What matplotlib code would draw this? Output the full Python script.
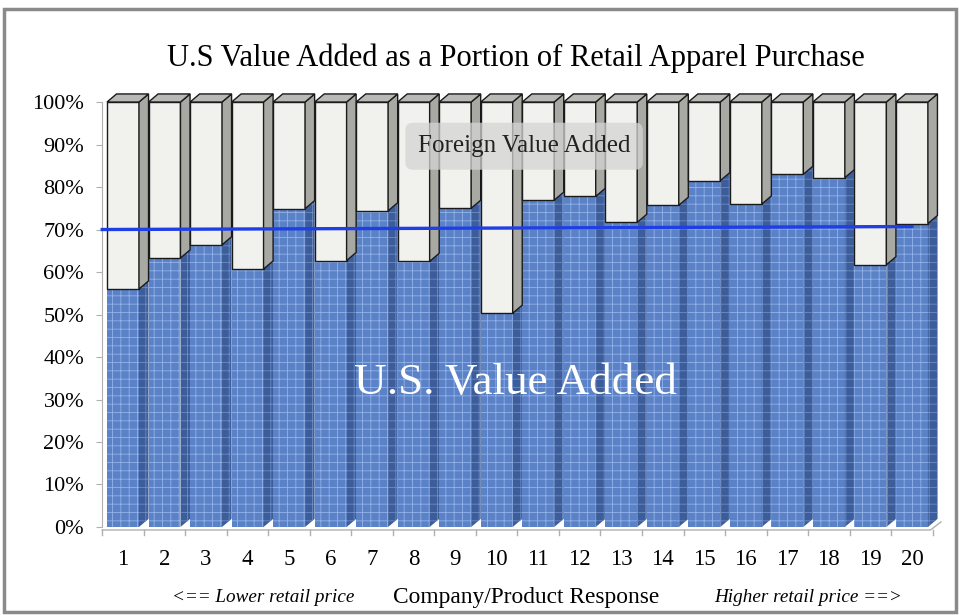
import numpy as np
import matplotlib.pyplot as plt
from matplotlib.patches import Polygon, Rectangle

# Share of the retail price added in the U.S., by company/product response
responses = list(range(1, 21))
us_share = [56.0, 63.3, 66.4, 60.7, 74.9, 62.7, 74.4, 62.5, 75.0, 50.3,
            76.9, 77.8, 71.7, 75.7, 81.5, 76.0, 83.0, 82.2, 61.7, 71.4]
foreign_share = [100 - v for v in us_share]

# Reference line across the chart
line_x = [0.5, 20.0]
line_y = [70.0, 70.7]

y_ticks = list(range(0, 101, 10))
y_tick_labels = [f"{t}%" for t in y_ticks]

serif = ['Liberation Serif', 'DejaVu Serif']
plt.rcParams['font.family'] = serif
plt.rcParams['hatch.linewidth'] = 0.6

fig = plt.figure(figsize=(9.59, 6.15), dpi=100)
ax = fig.add_axes([0.1066, 0.1431, 0.8746, 0.691])
ax.set_xlim(0.5, 20.7)
ax.set_ylim(0, 100)

w = 0.77      # width of the front face
dx = 0.23     # depth, sideways
dy = 1.9      # depth, upward

blue_front = '#5b82c7'
blue_side = '#3c5d9a'
blue_weave = '#92b2e8'
white_front = '#f1f1ee'
white_side = '#a9a9a4'
white_top = '#b9b9b5'

for x, us, fr in zip(responses, us_share, foreign_share):
    x0, x1 = x - w / 2, x + w / 2
    top = us + fr
    side_blue = [(x1, 0), (x1 + dx, dy), (x1 + dx, us + dy), (x1, us)]

    # blue (U.S.) part
    ax.add_patch(Rectangle((x0, 0), w, us, facecolor=blue_front,
                           edgecolor='none', zorder=2))
    ax.add_patch(Rectangle((x0, 0), w, us, facecolor='none',
                           edgecolor=blue_weave, hatch='++', lw=0, zorder=2.1))
    ax.add_patch(Polygon(side_blue, closed=True, facecolor=blue_side,
                         edgecolor='none', zorder=2))
    ax.add_patch(Polygon(side_blue, closed=True, facecolor='none',
                         edgecolor='#6d8cc6', hatch='++', lw=0, zorder=2.1))

    # white (foreign) part stacked on top
    ax.add_patch(Rectangle((x0, us), w, fr, facecolor=white_front,
                           edgecolor='#1a1a1a', lw=1.0, zorder=3,
                           clip_on=False))
    ax.add_patch(Polygon([(x1, us), (x1 + dx, us + dy), (x1 + dx, top + dy),
                          (x1, top)], closed=True, facecolor=white_side,
                         edgecolor='#1a1a1a', lw=1.0, zorder=3, clip_on=False))
    ax.add_patch(Polygon([(x0, top), (x1, top), (x1 + dx, top + dy),
                          (x0 + dx, top + dy)], closed=True,
                         facecolor=white_top, edgecolor='#1a1a1a', lw=1.0,
                         zorder=3, clip_on=False))

ax.plot(line_x, line_y, color='#1f3ee6', lw=2.4, zorder=5, clip_on=False)

# axes styling
for side in ['top', 'right', 'bottom']:
    ax.spines[side].set_visible(False)
ax.spines['left'].set_color('#b0b0b0')
ax.spines['left'].set_zorder(1)

ax.set_yticks(y_ticks)
ax.set_yticklabels(y_tick_labels, fontsize=16)
ax.tick_params(axis='y', length=4, color='#b0b0b0', pad=9)

ax.set_xticks(responses)
ax.set_xticklabels([str(r) for r in responses], fontsize=16.5)
ax.tick_params(axis='x', length=0, pad=16)

# floor edge with ticks between bars
ax.plot([0.5, 20.45, 20.7], [-0.7, -0.7, dy - 0.7], color='#b0b0b0', lw=1.0,
        clip_on=False, zorder=1)
for b in np.arange(0.5, 21, 1.0):
    ax.plot([b, b], [-0.7, -2.0], color='#b0b0b0', lw=1.0, clip_on=False,
            zorder=1)

ax.text(10.45, 33.8, 'U.S. Value Added', color='white', fontsize=32.5,
        ha='center', va='center', zorder=6)

ax.text(10.66, 89.6, 'Foreign Value Added', color='#222222', fontsize=18,
        ha='center', va='center', zorder=6,
        bbox=dict(boxstyle='round,pad=0.5,rounding_size=0.3',
                  facecolor='#d4d4d4', edgecolor='none', alpha=0.75))

fig.text(0.538, 0.906, 'U.S Value Added as a Portion of Retail Apparel Purchase',
         fontsize=22, ha='center', va='center')

fig.text(0.274, 0.029, '<== Lower retail price', fontsize=13.8,
         style='italic', ha='center', va='center')
fig.text(0.549, 0.029, 'Company/Product Response', fontsize=16.8,
         ha='center', va='center')
fig.text(0.843, 0.029, 'Higher retail price ==>', fontsize=13.8,
         style='italic', ha='center', va='center')

# grey frame around the whole chart
fig.add_artist(Rectangle((0.004, 0.005), 0.993, 0.98, transform=fig.transFigure,
                         facecolor='none', edgecolor='#8a8a8a', lw=2.5))

fig.savefig('out.png', dpi=100)
